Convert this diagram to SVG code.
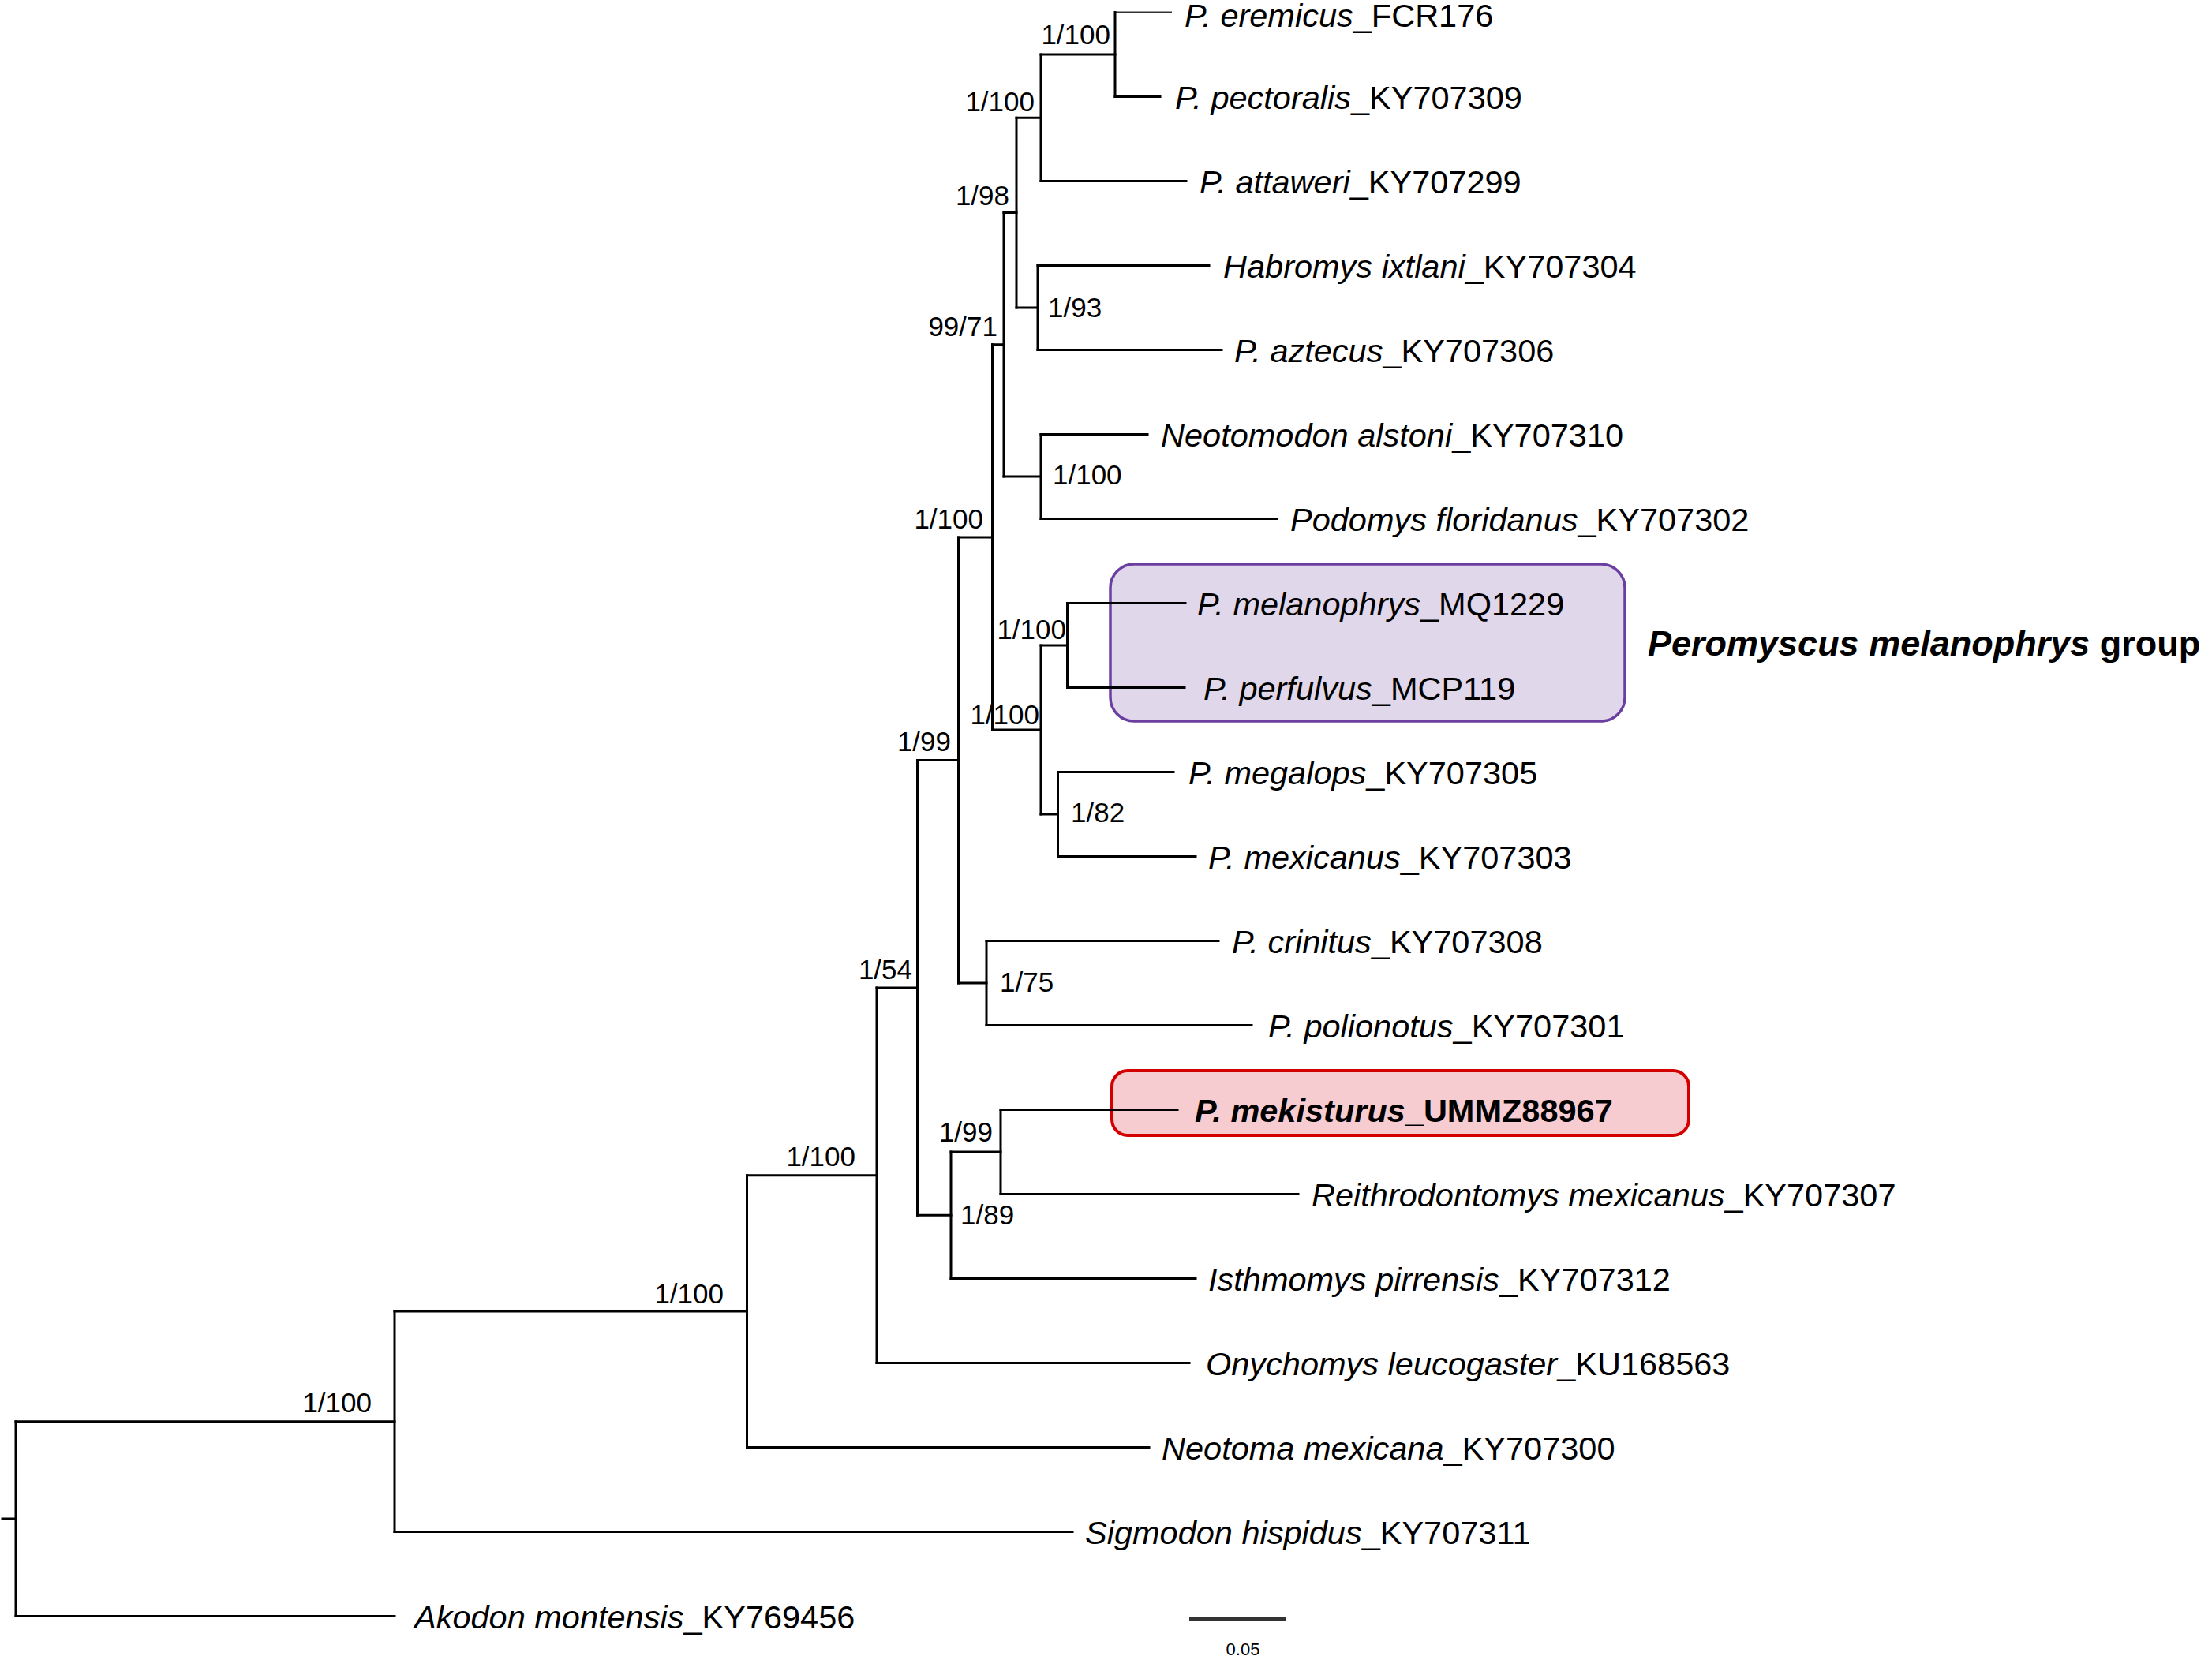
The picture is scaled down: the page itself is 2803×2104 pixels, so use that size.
<svg xmlns="http://www.w3.org/2000/svg" width="2803" height="2104" viewBox="0 0 2803 2104">
<style>
.br{fill:none;stroke:#000;stroke-width:3;stroke-linecap:square}
.thin{fill:none;stroke:#333;stroke-width:2}
.lf{font-family:"Liberation Sans",Arial,sans-serif;font-size:41.5px;fill:#000}
.sp{font-family:"Liberation Sans",Arial,sans-serif;font-size:35px;fill:#000}
.i{font-style:italic}
.b{font-weight:bold}
.e{text-anchor:end}
</style>
<rect width="2803" height="2104" fill="#fff"/>
<g id="highlight-boxes">
<rect x="1407" y="715" width="652" height="199" rx="30" fill="#e0d7eb" stroke="#6b3fa0" stroke-width="3.5"/>
<rect x="1409" y="1357" width="731" height="82" rx="20" fill="#f7ccd0" stroke="#d40000" stroke-width="4"/>
</g>
<g id="connectors">
<path class="thin" d="M1413,15.5H1485"/>
<path class="br" d="M1413,122.5H1470 M1319,69H1413 M1319,229.5H1503 M1288,149.25H1319 M1315,336.5H1532 M1315,443.5H1548 M1288,390H1315 M1272,269.6H1288 M1319,550.5H1454 M1319,657.5H1618 M1272,604H1319 M1257.5,436.8H1272 M1352.5,764.5H1502 M1352.5,871.5H1501 M1319,818H1352.5 M1340.5,978.5H1487 M1340.5,1085.5H1515 M1319,1032H1340.5 M1257.5,925H1319 M1214.5,680.9H1257.5 M1250,1192.5H1544 M1250,1299.5H1586 M1214.5,1246H1250 M1162.5,963.5H1214.5 M1268,1406.5H1492 M1268,1513.5H1645 M1205,1460H1268 M1205,1620.5H1515 M1162.5,1540.25H1205 M1111,1251.9H1162.5 M1111,1727.5H1507 M946.5,1489.7H1111 M946.5,1834.5H1456 M500,1662.1H946.5 M500,1941.5H1359 M20,1801.8H500 M20,2048.5H500 M3,1925.1H20"/>
<path class="br" d="M1413,15.5V122.5 M1319,69V229.5 M1315,336.5V443.5 M1288,149.25V390 M1319,550.5V657.5 M1272,269.6V604 M1352.5,764.5V871.5 M1340.5,978.5V1085.5 M1319,818V1032 M1257.5,436.8V925 M1250,1192.5V1299.5 M1214.5,680.9V1246 M1268,1406.5V1513.5 M1205,1460V1620.5 M1162.5,963.5V1540.25 M1111,1251.9V1727.5 M946.5,1489.7V1834.5 M500,1662.1V1941.5 M20,1801.8V2048.5"/>
</g>
<g id="taxa">
<g id="t-eremicus"><text class="lf" x="1501" y="34"><tspan class="i">P. eremicus</tspan>_FCR176</text></g>
<g id="t-pectoralis"><text class="lf" x="1489" y="137.5"><tspan class="i">P. pectoralis</tspan>_KY707309</text></g>
<g id="t-attaweri"><text class="lf" x="1520" y="244.5"><tspan class="i">P. attaweri</tspan>_KY707299</text></g>
<g id="t-habromys"><text class="lf" x="1550" y="351.5"><tspan class="i">Habromys ixtlani</tspan>_KY707304</text></g>
<g id="t-aztecus"><text class="lf" x="1564" y="458.5"><tspan class="i">P. aztecus</tspan>_KY707306</text></g>
<g id="t-neotomodon"><text class="lf" x="1471" y="565.5"><tspan class="i">Neotomodon alstoni</tspan>_KY707310</text></g>
<g id="t-podomys"><text class="lf" x="1635" y="672.5"><tspan class="i">Podomys floridanus</tspan>_KY707302</text></g>
<g id="t-melanophrys"><text class="lf" x="1517" y="779.5"><tspan class="i">P. melanophrys</tspan>_MQ1229</text></g>
<g id="t-perfulvus"><text class="lf" x="1525" y="886.5"><tspan class="i">P. perfulvus</tspan>_MCP119</text></g>
<g id="t-megalops"><text class="lf" x="1506" y="993.5"><tspan class="i">P. megalops</tspan>_KY707305</text></g>
<g id="t-mexicanus"><text class="lf" x="1531" y="1100.5"><tspan class="i">P. mexicanus</tspan>_KY707303</text></g>
<g id="t-crinitus"><text class="lf" x="1561" y="1207.5"><tspan class="i">P. crinitus</tspan>_KY707308</text></g>
<g id="t-polionotus"><text class="lf" x="1607" y="1314.5"><tspan class="i">P. polionotus</tspan>_KY707301</text></g>
<g id="t-mekisturus"><text class="lf b" x="1514" y="1421.5"><tspan class="i">P. mekisturus</tspan>_UMMZ88967</text></g>
<g id="t-reithrodontomys"><text class="lf" x="1662" y="1528.5"><tspan class="i">Reithrodontomys mexicanus</tspan>_KY707307</text></g>
<g id="t-isthmomys"><text class="lf" x="1531" y="1635.5"><tspan class="i">Isthmomys pirrensis</tspan>_KY707312</text></g>
<g id="t-onychomys"><text class="lf" x="1528" y="1742.5"><tspan class="i">Onychomys leucogaster</tspan>_KU168563</text></g>
<g id="t-neotoma"><text class="lf" x="1472" y="1849.5"><tspan class="i">Neotoma mexicana</tspan>_KY707300</text></g>
<g id="t-sigmodon"><text class="lf" x="1375" y="1956.5"><tspan class="i">Sigmodon hispidus</tspan>_KY707311</text></g>
<g id="t-akodon"><text class="lf" x="525" y="2063.5"><tspan class="i">Akodon montensis</tspan>_KY769456</text></g>
</g>
<g id="group-label"><text x="2088" y="831" font-family="Liberation Sans,Arial,sans-serif" font-size="45" font-weight="bold"><tspan font-style="italic">Peromyscus melanophrys</tspan> group</text></g>
<g id="supports">
<g id="n-A"><text class="sp e" x="1407" y="56">1/100</text></g>
<g id="n-B"><text class="sp e" x="1311" y="141">1/100</text></g>
<g id="n-D"><text class="sp e" x="1279" y="260">1/98</text></g>
<g id="n-C"><text class="sp" x="1328" y="402">1/93</text></g>
<g id="n-F"><text class="sp e" x="1264" y="426">99/71</text></g>
<g id="n-E"><text class="sp" x="1334" y="614">1/100</text></g>
<g id="n-J"><text class="sp e" x="1246" y="670">1/100</text></g>
<g id="n-G"><text class="sp e" x="1351" y="810">1/100</text></g>
<g id="n-I"><text class="sp e" x="1317" y="918">1/100</text></g>
<g id="n-H"><text class="sp" x="1357" y="1042">1/82</text></g>
<g id="n-L"><text class="sp e" x="1205" y="952">1/99</text></g>
<g id="n-K"><text class="sp" x="1267" y="1257">1/75</text></g>
<g id="n-O"><text class="sp e" x="1156" y="1241">1/54</text></g>
<g id="n-M"><text class="sp e" x="1258" y="1447">1/99</text></g>
<g id="n-N"><text class="sp" x="1217" y="1552">1/89</text></g>
<g id="n-P"><text class="sp e" x="1084" y="1478">1/100</text></g>
<g id="n-Q"><text class="sp e" x="917" y="1652">1/100</text></g>
<g id="n-R"><text class="sp e" x="471" y="1790">1/100</text></g>
</g>
<g id="scale-bar">
<path d="M1507,2051.5H1629" stroke="#333" stroke-width="5" fill="none"/>
<text x="1575" y="2098" text-anchor="middle" font-family="Liberation Sans,Arial,sans-serif" font-size="22" fill="#000">0.05</text>
</g>
</svg>
